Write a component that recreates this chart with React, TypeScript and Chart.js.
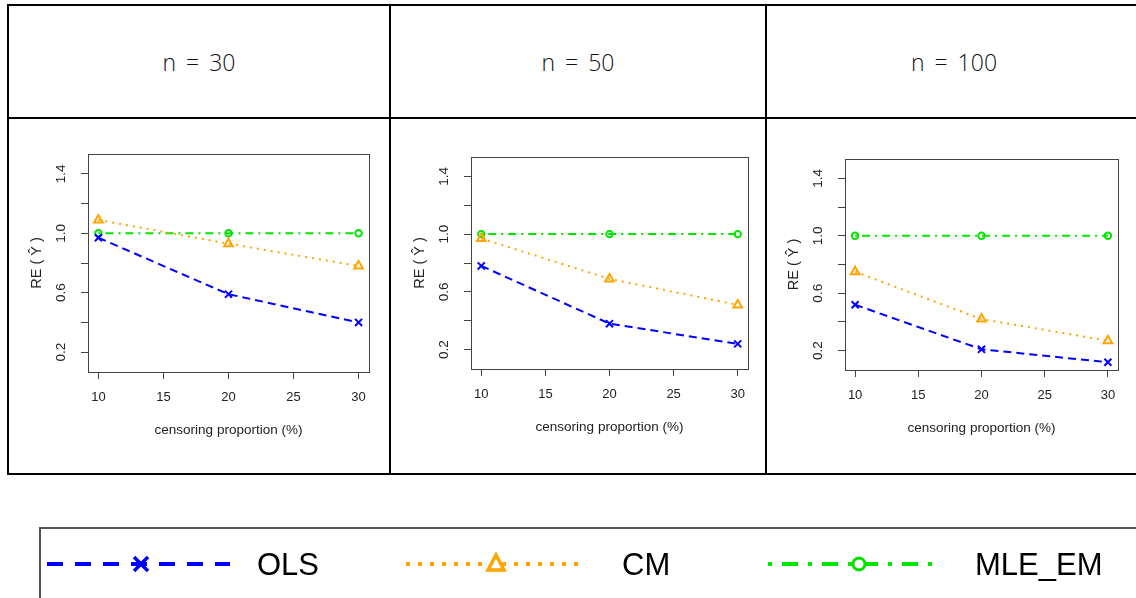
import React, { useEffect, useRef } from "react";
import { Chart, registerables } from "chart.js";

Chart.register(...registerables);

// ---- data ----
const censoring = [10, 20, 30];
const xTicks = [10, 15, 20, 25, 30];
const yTicks = [0.2, 0.4, 0.6, 0.8, 1.0, 1.2, 1.4];
const yTickLabels = ["0.2", "", "0.6", "", "1.0", "", "1.4"];
const panelTitles = ["n = 30", "n = 50", "n = 100"];
const seriesNames = ["OLS", "CM", "MLE_EM"];
const xTitle = "censoring proportion (%)";
const yTitle = "RE ( Ŷ )";

const olsN30 = [0.97, 0.59, 0.4];
const cmN30 = [1.09, 0.93, 0.78];
const mleN30 = [1.0, 1.0, 1.0];

const olsN50 = [0.78, 0.38, 0.24];
const cmN50 = [0.97, 0.69, 0.51];
const mleN50 = [1.0, 1.0, 1.0];

const olsN100 = [0.52, 0.21, 0.12];
const cmN100 = [0.75, 0.42, 0.27];
const mleN100 = [1.0, 1.0, 1.0];

// ---- layout / style ----
const X_MIN = 9.2;
const X_MAX = 30.8;
const Y_MIN = 0.066;
const Y_MAX = 1.534;

const PANELS = [
  { left: 9, width: 380, pad: { left: 79, top: 35, right: 20, bottom: 101 }, ols: olsN30, cm: cmN30, mle: mleN30 },
  { left: 391, width: 374, pad: { left: 80, top: 38, right: 17, bottom: 104 }, ols: olsN50, cm: cmN50, mle: mleN50 },
  { left: 767, width: 369, pad: { left: 78, top: 40, right: 18, bottom: 103 }, ols: olsN100, cm: cmN100, mle: mleN100 },
];
const PANEL_TOP = 119;
const PANEL_H = 354;

const COLORS = { ols: "#0000FF", cm: "#FFA500", mle: "#00E600" };
const AXIS_COLOR = "#444";
const TEXT_COLOR = "#222";
const R_FONT = '"Liberation Sans", Arial, Helvetica, sans-serif';

const rStylePlugin = {
  id: "rStyle",
  afterDraw(chart: any) {
    const { ctx, chartArea: a, scales } = chart;
    const x = scales.x;
    const y = scales.y;
    ctx.save();
    ctx.strokeStyle = AXIS_COLOR;
    ctx.lineWidth = 1;
    ctx.setLineDash([]);
    ctx.strokeRect(
      Math.round(a.left) + 0.5,
      Math.round(a.top) + 0.5,
      Math.round(a.right - a.left),
      Math.round(a.bottom - a.top)
    );
    ctx.fillStyle = TEXT_COLOR;
    ctx.font = `13px ${R_FONT}`;
    ctx.textAlign = "center";
    ctx.textBaseline = "middle";
    xTicks.forEach((v) => {
      ctx.fillText(String(v), x.getPixelForValue(v), a.bottom + 25);
    });
    ctx.font = `13.5px ${R_FONT}`;
    yTicks.forEach((v, i) => {
      const lab = yTickLabels[i];
      if (!lab) return;
      ctx.save();
      ctx.translate(a.left - 26.5, y.getPixelForValue(v));
      ctx.rotate(-Math.PI / 2);
      ctx.fillText(lab, 0, 0);
      ctx.restore();
    });
    ctx.font = `13.5px ${R_FONT}`;
    ctx.fillText(xTitle, (a.left + a.right) / 2, a.bottom + 58);
    ctx.font = `14.5px ${R_FONT}`;
    ctx.save();
    ctx.translate(a.left - 51, (a.top + a.bottom) / 2);
    ctx.rotate(-Math.PI / 2);
    ctx.fillText(yTitle, 0, 0);
    ctx.restore();
    ctx.restore();
  },
};

function Panel({ cfg }: { cfg: any }) {
  const ref = useRef<HTMLCanvasElement | null>(null);
  useEffect(() => {
    if (!ref.current) return;
    const pts = (arr: number[]) => censoring.map((c, i) => ({ x: c, y: arr[i] }));
    const chart = new Chart(ref.current, {
      type: "line",
      data: {
        datasets: [
          {
            label: seriesNames[0],
            data: pts(cfg.ols),
            borderColor: COLORS.ols,
            borderWidth: 2,
            borderDash: [8, 5],
            pointStyle: "crossRot",
            pointRadius: 5,
            pointBorderWidth: 2,
            pointBorderColor: COLORS.ols,
            backgroundColor: "transparent",
            pointBackgroundColor: "transparent",
            tension: 0,
          },
          {
            label: seriesNames[1],
            data: pts(cfg.cm),
            borderColor: COLORS.cm,
            borderWidth: 2,
            borderDash: [2, 5],
            pointStyle: "triangle",
            pointRadius: 5,
            pointBorderWidth: 2,
            pointBorderColor: COLORS.cm,
            backgroundColor: "transparent",
            pointBackgroundColor: "transparent",
            tension: 0,
          },
          {
            label: seriesNames[2],
            data: pts(cfg.mle),
            borderColor: COLORS.mle,
            borderWidth: 2,
            borderDash: [2, 5, 8, 5],
            pointStyle: "circle",
            pointRadius: 3.2,
            pointBorderWidth: 2,
            pointBorderColor: COLORS.mle,
            backgroundColor: "transparent",
            pointBackgroundColor: "transparent",
            tension: 0,
          },
        ],
      },
      options: {
        animation: false,
        responsive: false,
        maintainAspectRatio: false,
        devicePixelRatio: 1,
        layout: { padding: cfg.pad },
        plugins: { legend: { display: false }, tooltip: { enabled: false }, title: { display: false } },
        scales: {
          x: {
            type: "linear",
            min: X_MIN,
            max: X_MAX,
            afterBuildTicks: (s: any) => {
              s.ticks = xTicks.map((v) => ({ value: v }));
            },
            afterFit: (s: any) => {
              s.height = 0;
            },
            ticks: { display: false },
            grid: { drawOnChartArea: false, drawTicks: true, tickLength: 7, color: AXIS_COLOR, lineWidth: 1 },
            border: { display: false },
          },
          y: {
            type: "linear",
            min: Y_MIN,
            max: Y_MAX,
            afterBuildTicks: (s: any) => {
              s.ticks = yTicks.map((v) => ({ value: v }));
            },
            afterFit: (s: any) => {
              s.width = 0;
            },
            ticks: { display: false },
            grid: { drawOnChartArea: false, drawTicks: true, tickLength: 7, color: AXIS_COLOR, lineWidth: 1 },
            border: { display: false },
          },
        },
      } as any,
      plugins: [rStylePlugin],
    });
    return () => chart.destroy();
  }, [cfg]);
  return (
    <canvas
      ref={ref}
      width={cfg.width}
      height={PANEL_H}
      style={{ position: "absolute", left: cfg.left, top: PANEL_TOP, width: cfg.width, height: PANEL_H }}
    />
  );
}

const line = (left: number, top: number, width: number, height: number, color = "#000") => (
  <div style={{ position: "absolute", left, top, width, height, background: color }} />
);

export default function App() {
  const titleCells = [
    { left: 9, right: 389 },
    { left: 391, right: 765 },
    { left: 767, right: 1141 },
  ];
  return (
    <div
      style={{
        position: "absolute",
        left: 0,
        top: 0,
        width: 1136,
        height: 598,
        overflow: "hidden",
        background: "#fff",
      }}
    >
      {/* table grid */}
      {line(7, 4, 1140, 2)}
      {line(7, 4, 2, 471)}
      {line(7, 117, 1140, 2)}
      {line(7, 473, 1140, 2)}
      {line(389, 4, 2, 471)}
      {line(765, 4, 2, 471)}
      {line(1141, 4, 2, 471)}
      {titleCells.map((c, i) => (
        <div
          key={i}
          style={{
            position: "absolute",
            left: c.left,
            top: 6,
            width: c.right - c.left,
            height: 111,
            display: "flex",
            alignItems: "center",
            justifyContent: "center",
            fontFamily: '"Open Sans", "Noto Sans", sans-serif',
            fontWeight: 300,
            fontSize: 23,
            wordSpacing: 4,
            color: "#111",
          }}
        >
          {panelTitles[i]}
        </div>
      ))}
      {PANELS.map((p, i) => (
        <Panel key={i} cfg={p} />
      ))}
      {/* legend */}
      <svg width={1136} height={598} style={{ position: "absolute", left: 0, top: 0 }}>
        <rect x={40} y={528} width={1200} height={200} fill="none" stroke="#555" strokeWidth={2} />
        <line x1={47} x2={230} y1={564} y2={564} stroke={COLORS.ols} strokeWidth={4} strokeDasharray="16 12" />
        <line x1={134} x2={148} y1={557} y2={571} stroke={COLORS.ols} strokeWidth={3.5} />
        <line x1={134} x2={148} y1={571} y2={557} stroke={COLORS.ols} strokeWidth={3.5} />
        <line x1={406} x2={580} y1={564} y2={564} stroke={COLORS.cm} strokeWidth={4} strokeDasharray="4 8" />
        <polygon points="496,555 504,570 488,570" fill="#fff" stroke={COLORS.cm} strokeWidth={3.5} />
        <line x1={768} x2={942} y1={564} y2={564} stroke={COLORS.mle} strokeWidth={4} strokeDasharray="4 10 16 10" />
        <circle cx={859} cy={564} r={6} fill="#fff" stroke={COLORS.mle} strokeWidth={3} />
        <g fontFamily={R_FONT} fontSize={31} fill="#000">
          <text x={257} y={575}>{seriesNames[0]}</text>
          <text x={622} y={575}>{seriesNames[1]}</text>
          <text x={975} y={575}>{seriesNames[2]}</text>
        </g>
      </svg>
    </div>
  );
}
